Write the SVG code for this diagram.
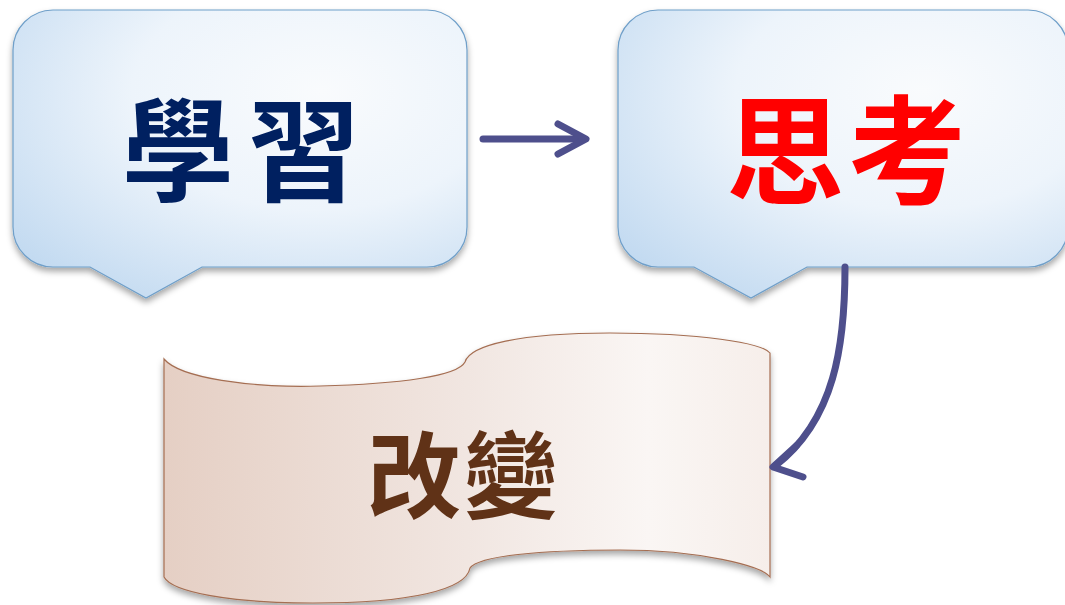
<svg xmlns="http://www.w3.org/2000/svg" width="1065" height="605" viewBox="0 0 1065 605">
  <defs>
    <radialGradient id="blueFill" cx="0.65" cy="0.3" r="0.9" fx="0.68" fy="0.28">
      <stop offset="0" stop-color="#f9fbfd"/>
      <stop offset="0.45" stop-color="#edf4fb"/>
      <stop offset="1" stop-color="#bcd6ef"/>
    </radialGradient>
    <linearGradient id="brownFill" x1="0" y1="0" x2="1" y2="0">
      <stop offset="0" stop-color="#e5cfc4"/>
      <stop offset="0.5" stop-color="#f1e6e1"/>
      <stop offset="0.8" stop-color="#faf6f4"/>
      <stop offset="1" stop-color="#f6eeea"/>
    </linearGradient>
    <filter id="shadow" x="-10%" y="-10%" width="120%" height="125%">
      <feDropShadow dx="0" dy="4" stdDeviation="3" flood-color="#000" flood-opacity="0.35"/>
    </filter>
  </defs>
  <style>
    .callout { fill: url(#blueFill); stroke: #6f9fc9; stroke-width: 1.2; filter: url(#shadow); }
    .banner { fill: url(#brownFill); stroke: #a56e52; stroke-width: 1.2; filter: url(#shadow); }
    .label { font-family: "Noto Sans CJK TC", "Noto Sans CJK SC", sans-serif; font-weight: 700; text-anchor: middle; }
    .conn { fill: none; stroke: #4e4f8c; stroke-width: 7; stroke-linecap: round; stroke-linejoin: round; }
  </style>

  <g id="node-learn">
    <path class="callout" d="M53,10 H427 A40,40 0 0 1 467,50 V227 A40,40 0 0 1 427,267 H202 L146,298 L90,267 H53 A40,40 0 0 1 13,227 V50 A40,40 0 0 1 53,10 Z"/>
    <text class="label" x="178 304" y="193" font-size="112" fill="#002060">學習</text>
  </g>

  <g id="node-think">
    <path class="callout" d="M658,10 H1028 A40,40 0 0 1 1068,50 V227 A40,40 0 0 1 1028,267 H807 L751,298 L694,267 H658 A40,40 0 0 1 618,227 V50 A40,40 0 0 1 658,10 Z"/>
    <text class="label" x="785 907" y="195" font-size="118" fill="#ff0000">思考</text>
  </g>

  <g id="node-change">
    <path class="banner" d="M164,359 C180,378 250,388 320,386 C400,384 458,376 465,362 C470,345 520,333 610,333 C700,333 762,343 770,353 V577 C762,566 700,550 620,550 C540,550 478,556 470,568 C466,590 410,603 313,603 C230,603 172,592 164,577 Z"/>
    <text class="label" x="414 511" y="511" font-size="94" fill="#603217">改變</text>
  </g>

  <g id="connectors">
    <path class="conn" d="M483,139 H584"/>
    <path class="conn" d="M558,124 L586,139 L558,154"/>
    <path class="conn" d="M845,267 C845,345 835,420 775,466"/>
    <path class="conn" d="M796,446 L773,467 L803,477"/>
  </g>
</svg>
